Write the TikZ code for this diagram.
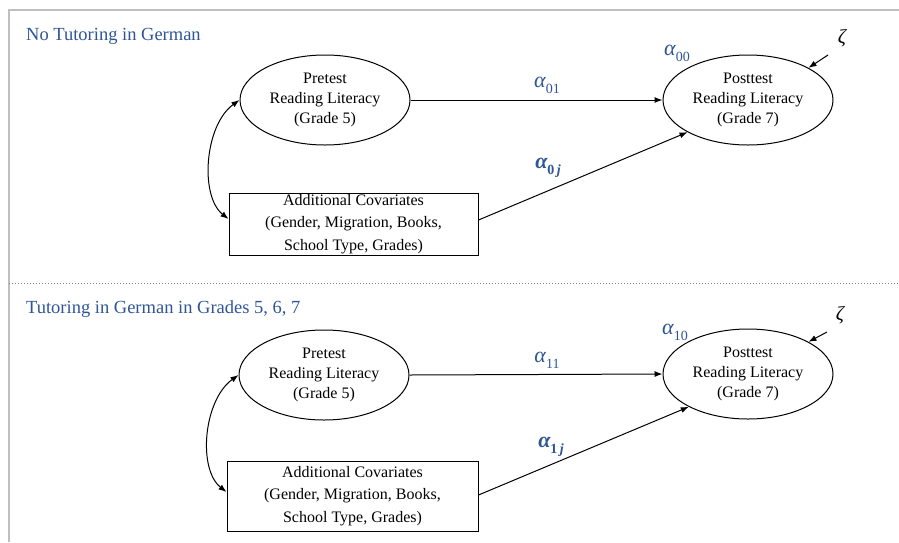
\documentclass[tikz,border=0pt]{standalone}
\usepackage{fontspec}
\setmainfont{Liberation Serif}
\usetikzlibrary{shapes.geometric,arrows.meta,calc}
\definecolor{titleblue}{RGB}{47,85,151}
\definecolor{framegray}{RGB}{191,191,191}
\newcommand\mycoef[2]{{\itshape α}\raisebox{-0.28em}{\fontsize{14}{14}\selectfont\upshape #1\itshape #2}}
\newcommand\mybcoef[2]{{\bfseries\itshape α}\raisebox{-0.28em}{\fontsize{14}{14}\selectfont\bfseries\upshape #1\,\itshape #2}}
\begin{document}
\begin{tikzpicture}[x=1pt,y=-1pt,
  every node/.style={font=\fontsize{16}{20}\selectfont},
  latent/.style={ellipse,draw,line width=1pt,minimum width=170pt,minimum height=90pt,inner sep=0pt,align=center},
  obs/.style={rectangle,draw,line width=1pt,inner sep=0pt,align=center,font=\fontsize{16}{22.5}\selectfont},
  pathline/.style={line width=1pt,-{Latex[length=8pt,width=6pt]}},
  covline/.style={line width=1pt,{Latex[length=8pt,width=6pt]}-{Latex[length=8pt,width=6pt]}},
  coef/.style={text=titleblue,font=\fontsize{22}{24}\selectfont},
  zetastyle/.style={font=\fontsize{20}{22}\selectfont\itshape},
  paneltitle/.style={text=titleblue,anchor=west,inner sep=0pt,font=\fontsize{18.5}{22}\selectfont},
  framestyle/.style={draw=framegray,line width=1.5pt},
  sepstyle/.style={draw=gray,line width=1pt,dotted}
]
\useasboundingbox (0,0) rectangle (899,542);

% frame
\coordinate (ftr) at (899,10);
\coordinate (ftl) at (9,10);
\coordinate (fbl) at (9,542);
\draw[framestyle] (ftr) -- (ftl) -- (fbl);
\coordinate (sepl) at (9,283);
\coordinate (sepr) at (899,283);
\draw[sepstyle] (sepl) -- (sepr);

% ---------- Panel 1 ----------
\node[paneltitle] (t1) at (26,36) {No Tutoring in German};
\node[latent] (pre1) at (325,100) {Pretest\\Reading Literacy\\(Grade 5)};
\node[latent] (post1) at (748,100) {Posttest\\Reading Literacy\\(Grade 7)};
\node[obs,minimum width=249pt,minimum height=62pt] (cov1) at (353.5,224) {Additional Covariates\\(Gender, Migration, Books,\\School Type, Grades)};
\node[zetastyle] (z1) at (842,38) {ζ};
\coordinate (z1s) at (828,55);

\draw[pathline] (pre1.east) -- (post1.west);
\draw[pathline] ([yshift=4pt]cov1.east) -- (post1.208);
\draw[pathline] (z1s) -- (post1.28);
\draw[covline] (pre1.west) .. controls +(-35,25) and +(-29,-23) .. ([yshift=5pt]cov1.west);

\node[coef] (a01) at (547,85) {\mycoef{01}{}};
\node[coef] (a00) at (677,53) {\mycoef{00}{}};
\node[coef] (a0j) at (548,168) {\mybcoef{0}{j}};

% ---------- Panel 2 ----------
\node[paneltitle] (t2) at (26,309) {Tutoring in German in Grades 5, 6, 7};
\node[latent] (pre2) at (324,375) {Pretest\\Reading Literacy\\(Grade 5)};
\node[latent] (post2) at (748,374) {Posttest\\Reading Literacy\\(Grade 7)};
\node[obs,minimum width=251pt,minimum height=70pt] (cov2) at (352.5,496) {Additional Covariates\\(Gender, Migration, Books,\\School Type, Grades)};
\node[zetastyle] (z2) at (840,315) {ζ};
\coordinate (z2s) at (827,332);

\draw[pathline] (pre2.east) -- (post2.west);
\draw[pathline] ([yshift=1pt]cov2.east) -- (post2.209);
\draw[pathline] (z2s) -- (post2.28);
\draw[covline] (pre2.west) .. controls +(-35,25) and +(-29,-23) .. ([yshift=4pt]cov2.west);

\node[coef] (a11) at (547,360) {\mycoef{11}{}};
\node[coef] (a10) at (675,332) {\mycoef{10}{}};
\node[coef] (a1j) at (551,447) {\mybcoef{1}{j}};
\end{tikzpicture}
\end{document}
